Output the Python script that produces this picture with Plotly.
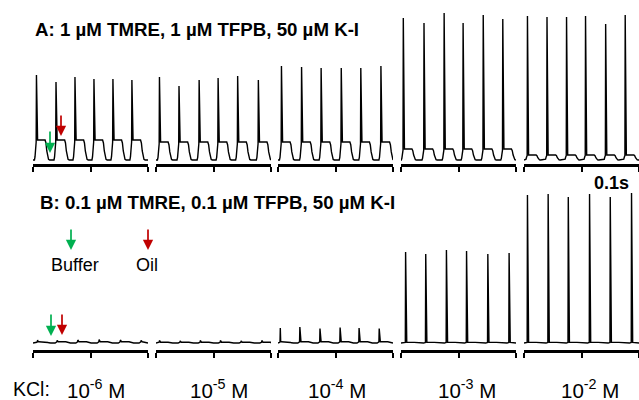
import plotly.graph_objects as go

W, H = 639, 400
FONT = "Liberation Sans, Arial, sans-serif"

# ---------------- data ----------------
# panel layout: time axis 0..0.2 s per panel
panel_left_px = [33, 156, 278, 401, 524]
panel_width_px = 115
time_range = [0.0, 0.2]
time_ticks = [0.0, 0.1, 0.2]

conc_labels = ["10<sup>-6</sup> M", "10<sup>-5</sup> M", "10<sup>-4</sup> M",
               "10<sup>-3</sup> M", "10<sup>-2</sup> M"]
label_x_px = [96, 219, 337, 467, 590]

# Row A: 1 uM TMRE ... spike times (s), spike heights (a.u.), oil plateau (a.u.)
A_spike_t = [
    [0.006, 0.040, 0.073, 0.106, 0.139, 0.172],
    [0.006, 0.040, 0.075, 0.108, 0.142, 0.178],
    [0.006, 0.041, 0.075, 0.110, 0.144, 0.179],
    [0.004, 0.040, 0.075, 0.108, 0.143, 0.177],
    [0.006, 0.040, 0.074, 0.107, 0.142, 0.176],
]
A_spike_h = [
    [85, 78, 83, 81, 81, 80],
    [83, 74, 80, 82, 84, 80],
    [94, 93, 92, 92, 92, 94],
    [142, 137, 147, 137, 145, 141],
    [144, 143, 143, 144, 136, 145],
]
A_plateau = [20, 18, 18, 11, 5]

# Row B: 0.1 uM TMRE ...
B_spike_t = [
    [0.008, 0.042, 0.078, 0.115, 0.152, 0.188],
    [0.006, 0.042, 0.077, 0.112, 0.148, 0.184],
    [0.004, 0.038, 0.073, 0.108, 0.141, 0.176],
    [0.008, 0.043, 0.079, 0.114, 0.151, 0.188],
    [0.006, 0.042, 0.077, 0.114, 0.150, 0.187],
]
B_spike_h = [
    [3.0, 2.5, 3.0, 3.5, 3.0, 2.5],
    [2.5, 2.0, 2.5, 2.5, 2.0, 2.5],
    [15, 16, 14.5, 15.5, 15, 14.5],
    [91, 89, 93, 92, 89, 90],
    [148, 149, 146, 149, 146, 150],
]
B_plateau = [1.2, 0.8, 1.2, 0.6, 0.6]

# scale bar (s)
bar_start, bar_len = 0.1, 0.1

# droplet passage shape: offsets (s) from each spike and fraction of plateau level
shape_dt = [-0.0035, -0.0025, -0.0015, -0.0005, 0.0, 0.0007, 0.002, 0.015,
            0.0165, 0.018, 0.0195, 0.021, 0.023]
shape_frac = [0, 0.15, 0.6, 0.9, None, 1.05, 1.0, 1.0, 0.85, 0.45, 0.15, 0.03, 0]

# ---------------- helpers ----------------
def px_x(px):
    return px / W

def px_y(py):
    return 1 - py / H

def build_trace(times, heights, plateau):
    xs, ys = [time_range[0]], [0.0]
    for ts, h in zip(times, heights):
        for dt, fr in zip(shape_dt, shape_frac):
            t = ts + dt
            if t <= xs[-1]:
                continue
            if t >= time_range[1]:
                break
            xs.append(t)
            ys.append(h if fr is None else fr * plateau)
    xs.append(time_range[1])
    ys.append(0.0)
    return xs, ys

rows = [
    dict(t=A_spike_t, h=A_spike_h, p=A_plateau, axis_py=164, top_py=10, yr=[-4, 150]),
    dict(t=B_spike_t, h=B_spike_h, p=B_plateau, axis_py=350, top_py=190, yr=[-7, 153]),
]

fig = go.Figure()
layout_axes = {}
k = 0
for r, row in enumerate(rows):
    for i in range(5):
        k += 1
        xs, ys = build_trace(row["t"][i], row["h"][i], row["p"][i])
        xa = "x" if k == 1 else f"x{k}"
        ya = "y" if k == 1 else f"y{k}"
        fig.add_trace(go.Scatter(x=xs, y=ys, mode="lines", xaxis=xa, yaxis=ya,
                                 line=dict(color="black", width=1.4),
                                 hoverinfo="skip", showlegend=False))
        xd = [px_x(panel_left_px[i]), px_x(panel_left_px[i] + panel_width_px)]
        yd = [px_y(row["axis_py"]), px_y(row["top_py"])]
        xkey = "xaxis" if k == 1 else f"xaxis{k}"
        ykey = "yaxis" if k == 1 else f"yaxis{k}"
        layout_axes[xkey] = dict(domain=xd, range=time_range, anchor=ya,
                                 showline=True, linecolor="black", linewidth=2.5,
                                 ticks="outside", tickvals=time_ticks, ticklen=5,
                                 tickwidth=1.5, tickcolor="black",
                                 showticklabels=False, showgrid=False,
                                 zeroline=False, fixedrange=True)
        layout_axes[ykey] = dict(domain=yd, range=row["yr"], anchor=xa,
                                 visible=False, showgrid=False, zeroline=False,
                                 fixedrange=True)

# scale bar under row A, panel 5 (drawn in panel-5 data coordinates)
fig.add_trace(go.Scatter(x=[bar_start, bar_start + bar_len], y=[-13, -13],
                         mode="lines+markers", xaxis="x5", yaxis="y5",
                         line=dict(color="black", width=1.8),
                         marker=dict(color="black", size=4),
                         cliponaxis=False, hoverinfo="skip", showlegend=False))

annotations = []

def text(x_px, y_px, s, size, bold=False, xanchor="center"):
    annotations.append(dict(x=px_x(x_px), y=px_y(y_px), xref="paper", yref="paper",
                            text=f"<b>{s}</b>" if bold else s, showarrow=False,
                            xanchor=xanchor, yanchor="middle",
                            font=dict(family=FONT, size=size, color="black")))

def arrow(x_px, tip_py, length, color):
    annotations.append(dict(x=px_x(x_px), y=px_y(tip_py), xref="paper", yref="paper",
                            ax=0, ay=-length, text="", showarrow=True,
                            arrowhead=2, arrowsize=1.2, arrowwidth=1.7,
                            arrowcolor=color))

GREEN, RED = "#00B050", "#C00000"

text(33, 29, "A: 1 µM TMRE, 1 µM TFPB, 50 µM K-I", 18.7, bold=True, xanchor="left")
text(38, 202, "B: 0.1 µM TMRE, 0.1 µM TFPB, 50 µM K-I", 18.7, bold=True, xanchor="left")
text(611, 183, "0.1s", 18, bold=True)
text(75, 265, "Buffer", 18)
text(147, 265, "Oil", 18)
text(11, 389, "KCl:", 19.5, xanchor="left")
for lab, lx in zip(conc_labels, label_x_px):
    text(lx, 389, lab, 20.5)

arrow(50, 153, 23, GREEN)
arrow(61, 136, 22, RED)
arrow(51, 336, 23, GREEN)
arrow(62, 335, 22, RED)
arrow(71, 250, 22, GREEN)
arrow(148, 250, 22, RED)

fig.update_layout(width=W, height=H, margin=dict(l=0, r=0, t=0, b=0),
                  paper_bgcolor="white", plot_bgcolor="white",
                  annotations=annotations, **layout_axes)

fig.write_html("out.html", config={"displayModeBar": False},
               post_script="document.body.style.margin='0';document.body.style.overflow='hidden';")
